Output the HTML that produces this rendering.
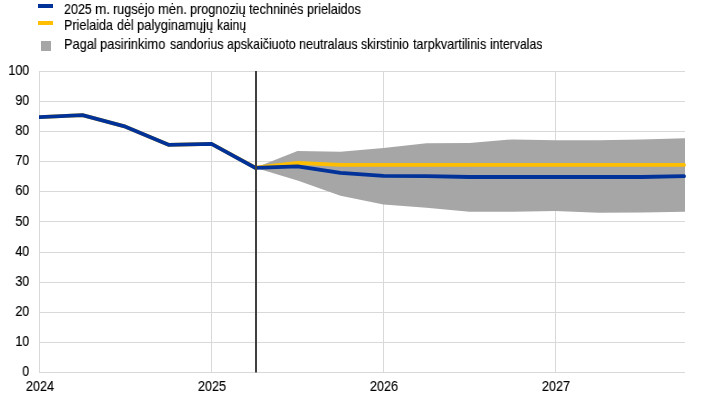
<!DOCTYPE html>
<html><head><meta charset="utf-8"><title>Chart</title>
<style>
html,body{margin:0;padding:0;background:#fff;}
body{width:711px;height:402px;position:relative;overflow:hidden;font-family:"Liberation Sans",sans-serif;font-size:12.6px;color:#000;-webkit-text-stroke:0.15px #000;}
svg{position:absolute;left:0;top:0;}
.w{position:absolute;white-space:nowrap;font-size:13.86px;line-height:16px;height:16px;transform-origin:0 0;will-change:transform;}
.sw{position:absolute;}
.yl{position:absolute;left:0;width:29.3px;text-align:right;font-size:13.86px;line-height:16px;height:16px;transform:scaleX(0.909);transform-origin:100% 0;will-change:transform;}
.xl{position:absolute;top:378px;width:60px;text-align:center;font-size:13.86px;line-height:16px;height:16px;transform:scaleX(0.909);transform-origin:50% 0;will-change:transform;}
</style></head><body>
<svg width="711" height="402" viewBox="0 0 711 402">
<g stroke="#d9d9d9" stroke-width="1" fill="none"><line x1="39" y1="71.50" x2="685" y2="71.50"/><line x1="39" y1="101.50" x2="685" y2="101.50"/><line x1="39" y1="131.50" x2="685" y2="131.50"/><line x1="39" y1="161.50" x2="685" y2="161.50"/><line x1="39" y1="191.50" x2="685" y2="191.50"/><line x1="39" y1="221.50" x2="685" y2="221.50"/><line x1="39" y1="252.50" x2="685" y2="252.50"/><line x1="39" y1="282.50" x2="685" y2="282.50"/><line x1="39" y1="312.50" x2="685" y2="312.50"/><line x1="39" y1="342.50" x2="685" y2="342.50"/><line x1="39" y1="372.50" x2="685" y2="372.50"/><line x1="39.50" y1="71" x2="39.50" y2="373"/><line x1="211.50" y1="71" x2="211.50" y2="373"/><line x1="383.50" y1="71" x2="383.50" y2="373"/><line x1="555.50" y1="71" x2="555.50" y2="373"/></g>
<polygon points="255.2,167.8 297.5,151.0 340.5,151.8 383.5,148.0 426.5,143.2 469.5,143.0 512.5,139.4 555.5,140.3 598.5,140.2 641.5,139.4 685.0,138.3 685.0,211.7 641.5,212.4 598.5,212.8 555.5,211.0 512.5,211.7 469.5,211.7 426.5,207.7 383.5,204.5 340.5,195.8 297.5,180.6 255.2,167.8" fill="#a6a6a6"/>
<clipPath id="c"><rect x="39" y="60" width="660" height="320"/></clipPath>
<g clip-path="url(#c)" fill="none" stroke-width="3.8" stroke-linejoin="round" stroke-linecap="round">
<polyline points="39.5,117.2 82.5,115.2 125.5,126.7 168.5,144.8 211.5,143.8 255.2,167.6 297.5,162.8 340.5,164.8 383.5,164.9 426.5,164.9 469.5,164.9 512.5,164.9 555.5,164.9 598.5,164.9 641.5,164.9 684.0,164.9" stroke="#ffbe00"/>
<polyline points="39.5,117.20 82.5,115.20 125.5,126.70 168.5,144.80 211.5,143.80 255.2,167.85 297.5,166.30 340.5,172.90 383.5,175.90 426.5,176.10 469.5,177.00 512.5,177.00 555.5,177.00 598.5,177.00 641.5,177.00 684.0,176.10" stroke="#003299"/>
</g>
<rect x="255" y="71" width="2" height="301.5" fill="#404040"/>
</svg>
<div class="sw" style="left:38px;top:4px;width:15px;height:4px;background:#003299"></div>
<div class="sw" style="left:38px;top:21px;width:15px;height:4px;background:#ffbe00"></div>
<div class="sw" style="left:41px;top:41px;width:10px;height:10px;background:#a6a6a6"></div>
<span class="w" style="left:63.85px;top:1px;transform:scaleX(0.9023)">2025</span><span class="w" style="left:95.34px;top:1px;transform:scaleX(0.9772)">m.</span><span class="w" style="left:113.05px;top:1px;transform:scaleX(0.9147)">rugsėjo</span><span class="w" style="left:158.08px;top:1px;transform:scaleX(0.9387)">mėn.</span><span class="w" style="left:190.35px;top:1px;transform:scaleX(0.9124)">prognozių</span><span class="w" style="left:248.90px;top:1px;transform:scaleX(0.9167)">techninės</span><span class="w" style="left:306.60px;top:1px;transform:scaleX(0.9064)">prielaidos</span><span class="w" style="left:63.85px;top:17px;transform:scaleX(0.9071)">Prielaida</span><span class="w" style="left:117.00px;top:17px;transform:scaleX(0.9002)">dėl</span><span class="w" style="left:137.18px;top:17px;transform:scaleX(0.9309)">palyginamųjų</span><span class="w" style="left:217.13px;top:17px;transform:scaleX(0.8742)">kainų</span><span class="w" style="left:63.83px;top:36px;transform:scaleX(0.9239)">Pagal</span><span class="w" style="left:100.43px;top:36px;transform:scaleX(0.9315)">pasirinkimo</span><span class="w" style="left:169.56px;top:36px;transform:scaleX(0.8896)">sandorius</span><span class="w" style="left:226.66px;top:36px;transform:scaleX(0.8919)">apskaičiuoto</span><span class="w" style="left:299.20px;top:36px;transform:scaleX(0.9066)">neutralaus</span><span class="w" style="left:361.36px;top:36px;transform:scaleX(0.8863)">skirstinio</span><span class="w" style="left:413.30px;top:36px;transform:scaleX(0.9053)">tarpkvartilinis</span><span class="w" style="left:490.02px;top:36px;transform:scaleX(0.8823)">intervalas</span>
<div class="yl" style="top:62px">100</div><div class="yl" style="top:92px">90</div><div class="yl" style="top:122px">80</div><div class="yl" style="top:152px">70</div><div class="yl" style="top:182px">60</div><div class="yl" style="top:213px">50</div><div class="yl" style="top:243px">40</div><div class="yl" style="top:273px">30</div><div class="yl" style="top:303px">20</div><div class="yl" style="top:333px">10</div><div class="yl" style="top:363px">0</div>
<div class="xl" style="left:9.50px">2024</div><div class="xl" style="left:181.50px">2025</div><div class="xl" style="left:353.50px">2026</div><div class="xl" style="left:525.50px">2027</div>
</body></html>
